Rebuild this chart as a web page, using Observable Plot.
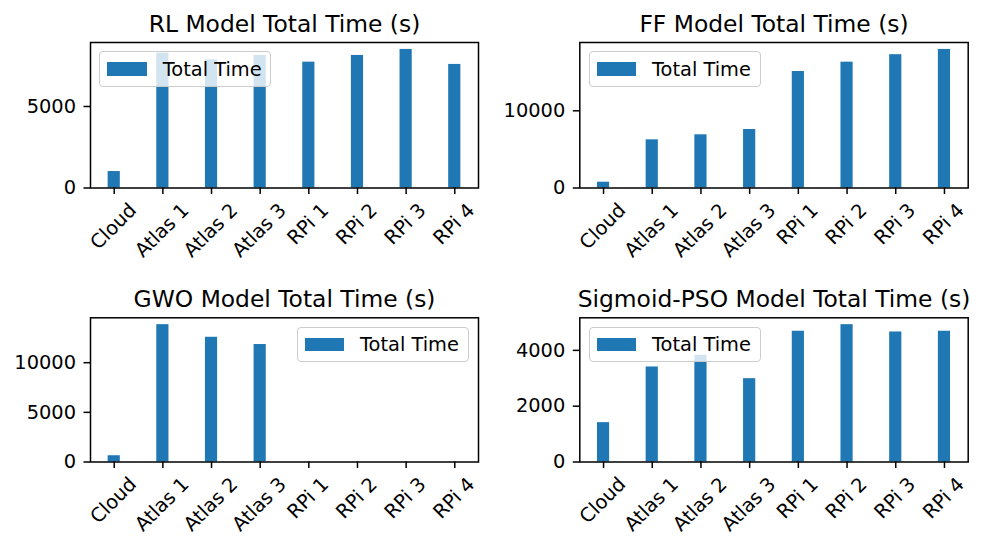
<!DOCTYPE html>
<html>
<head>
<meta charset="utf-8">
<script src="https://cdn.jsdelivr.net/npm/d3@7"></script>
<script src="https://cdn.jsdelivr.net/npm/@observablehq/plot@0.6"></script>
<style>
  body { margin: 0; background: #fff; }
  #fig { position: relative; width: 984px; height: 537px; font-family: "DejaVu Sans"; overflow: hidden; }
  .panel { position: absolute; }
  .panel svg { display: block; }
  .legend { position: absolute; box-sizing: border-box; width: 172px; height: 35.6px;
    border: 1px solid #cccccc; border-radius: 4px; background: rgba(255,255,255,0.8);
    display: flex; align-items: center; padding-left: 7px; font-size: 19.4px; color: #000;
    font-family: "DejaVu Sans"; white-space: nowrap; }
  .legend .sw { width: 39.4px; height: 13.3px; background: #1f77b4; margin-right: 16px; flex: none; }
</style>
</head>
<body>
<div id="fig"></div>
<script>
// ---- data ----
const categories = ["Cloud", "Atlas 1", "Atlas 2", "Atlas 3", "RPi 1", "RPi 2", "RPi 3", "RPi 4"];
const rlTimes  = [1010, 8270, 7860, 8130, 7720, 8130, 8500, 7580];
const ffTimes  = [750, 6240, 6890, 7580, 15090, 16300, 17270, 17950];
const gwoTimes = [630, 13830, 12560, 11830, 0, 0, 0, 0];
const psoTimes = [1410, 3405, 3824, 2986, 4685, 4921, 4659, 4685];
const titles = ["RL Model Total Time (s)", "FF Model Total Time (s)", "GWO Model Total Time (s)", "Sigmoid-PSO Model Total Time (s)"];
const rlTicks  = [0, 5000];
const ffTicks  = [0, 10000];
const gwoTicks = [0, 5000, 10000];
const psoTicks = [0, 2000, 4000];
const legendLabel = "Total Time";

// ---- layout ----
const fontPx = 19.4;
const titlePx = 23.4;
const barColor = "#1f77b4";
const ctx = document.createElement("canvas").getContext("2d");
ctx.font = `${fontPx}px "DejaVu Sans"`;
const asc = 0.76 * fontPx, desc = 0.23 * fontPx;

const panels = [
  {title: titles[0], values: rlTimes,  ticks: rlTicks,  legend: "upper left",
   left: 0,   top: 0,   w: 492, h: 270, mt: 42,   mb: 82.5, ml: 90,   mr: 14},
  {title: titles[1], values: ffTimes,  ticks: ffTicks,  legend: "upper left",
   left: 492, top: 0,   w: 492, h: 270, mt: 42,   mb: 82.5, ml: 87.3, mr: 16.3},
  {title: titles[2], values: gwoTimes, ticks: gwoTicks, legend: "upper right",
   left: 0,   top: 270, w: 492, h: 267, mt: 47.3, mb: 75.5, ml: 90,   mr: 14},
  {title: titles[3], values: psoTimes, ticks: psoTicks, legend: "upper left",
   left: 492, top: 270, w: 492, h: 267, mt: 47.3, mb: 75.5, ml: 87.3, mr: 16.3}
];

const fig = document.getElementById("fig");

for (const cfg of panels) {
  const data = categories.map((c, i) => ({cat: c, val: cfg.values[i]}));
  const ymax = d3.max(cfg.values) * 1.05;

  // matplotlib-style rotated labels: rotated bbox centred under the tick
  const labelMarks = categories.map(c => Plot.text([c], {
    x: d => d, text: d => d, frameAnchor: "bottom",
    textAnchor: "middle", lineAnchor: "bottom", rotate: -45,
    dx: 0.3535 * (asc - desc),
    dy: 13 + 0.707 * asc + 0.3535 * ctx.measureText(c).width,
    fontSize: fontPx, fill: "#000"
  }));

  const svg = Plot.plot({
    width: cfg.w, height: cfg.h,
    marginTop: cfg.mt, marginBottom: cfg.mb, marginLeft: cfg.ml, marginRight: cfg.mr,
    style: {fontFamily: "DejaVu Sans", fontSize: fontPx + "px", color: "#000", background: "transparent", overflow: "visible"},
    x: {type: "band", domain: categories, paddingInner: 0.75, paddingOuter: 0.3625, round: false, label: null},
    y: {domain: [0, ymax], nice: false, label: null},
    marks: [
      Plot.barY(data, {x: "cat", y: "val", fill: barColor}),
      Plot.frame({stroke: "#000", strokeWidth: 1.5}),
      Plot.axisY({ticks: cfg.ticks, tickSize: 6.5, tickPadding: 8, tickFormat: d => String(d),
                  strokeWidth: 1.5, fontSize: fontPx, label: null, fill: "#000", stroke: "#000"}),
      Plot.axisX({tickSize: 6.5, tickFormat: () => "", strokeWidth: 1.5, label: null, stroke: "#000"}),
      ...labelMarks,
      Plot.text([cfg.title], {text: d => d, frameAnchor: "top", dy: -11, lineAnchor: "bottom",
                              fontSize: titlePx, fill: "#000"})
    ]
  });

  const wrap = document.createElement("div");
  wrap.className = "panel";
  wrap.style.left = cfg.left + "px";
  wrap.style.top = cfg.top + "px";
  wrap.style.width = cfg.w + "px";
  wrap.style.height = cfg.h + "px";
  wrap.appendChild(svg);

  const lg = document.createElement("div");
  lg.className = "legend";
  const pad = 9.35;
  const frameW = cfg.w - cfg.ml - cfg.mr;
  lg.style.left = (cfg.legend === "upper right" ? cfg.ml + frameW - pad - 172 : cfg.ml + pad) + "px";
  lg.style.top = (cfg.mt + pad) + "px";
  const sw = document.createElement("span");
  sw.className = "sw";
  const tx = document.createElement("span");
  tx.textContent = legendLabel;
  lg.appendChild(sw);
  lg.appendChild(tx);
  wrap.appendChild(lg);

  fig.appendChild(wrap);
}
</script>
</body>
</html>
